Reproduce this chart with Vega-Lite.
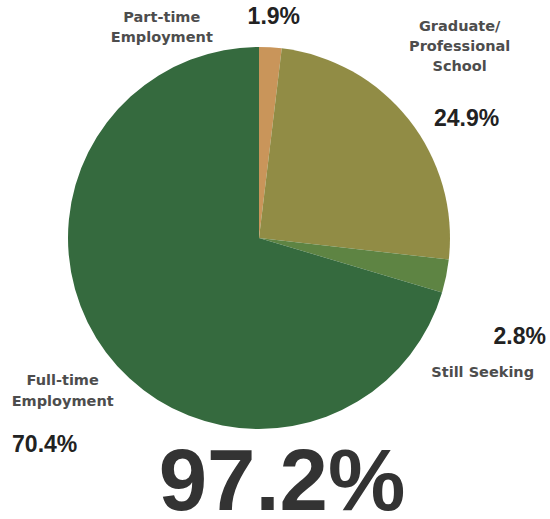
{
  "$schema": "https://vega.github.io/schema/vega-lite/v6.json",
  "width": 518,
  "height": 476,
  "autosize": {"type": "none"},
  "padding": {"left": 0, "top": 0, "right": 32, "bottom": 43},
  "background": "white",
  "config": {"view": {"stroke": null}},
  "title": {
    "text": "97.2%",
    "orient": "bottom",
    "anchor": "middle",
    "baseline": "alphabetic",
    "offset": 34,
    "dx": 23,
    "font": "Liberation Sans",
    "fontWeight": "bold",
    "fontSize": 87,
    "color": "#333333"
  },
  "data": {
    "values": [
      {"category": "Part-time", "rank": 1, "value": 1.9, "label": "Part-time\nEmployment", "pct": "1.9%"},
      {"category": "Graduate", "rank": 2, "value": 24.9, "label": "Graduate/\nProfessional\nSchool", "pct": "24.9%"},
      {"category": "Still Seeking", "rank": 3, "value": 2.8, "label": "Still Seeking", "pct": "2.8%"},
      {"category": "Full-time", "rank": 4, "value": 70.4, "label": "Full-time\nEmployment", "pct": "70.4%"}
    ]
  },
  "encoding": {
    "theta": {"field": "value", "type": "quantitative", "stack": true},
    "order": {"field": "rank", "type": "quantitative"}
  },
  "layer": [
    {
      "mark": {"type": "arc", "outerRadius": 191, "stroke": null},
      "encoding": {
        "color": {
          "field": "category",
          "type": "nominal",
          "scale": {
            "domain": ["Part-time", "Graduate", "Still Seeking", "Full-time"],
            "range": ["#c9955a", "#918c45", "#5e8443", "#356a3e"]
          },
          "legend": null
        }
      }
    },
    {
      "mark": {"type": "text", "radius": 215, "dx": -110, "dy": -5, "font": "DejaVu Sans", "fontWeight": "bold", "fontSize": 14.5, "lineHeight": 20, "lineBreak": "\n", "baseline": "middle", "align": "center", "fill": "#4d4d4d"},
      "encoding": {"text": {"condition": {"test": "datum.category === 'Part-time'", "field": "label"}, "value": ""}}
    },
    {
      "mark": {"type": "text", "radius": 215, "dx": 32, "dy": -78, "font": "DejaVu Sans", "fontWeight": "bold", "fontSize": 14.5, "lineHeight": 20, "lineBreak": "\n", "baseline": "middle", "align": "center", "fill": "#4d4d4d"},
      "encoding": {"text": {"condition": {"test": "datum.category === 'Graduate'", "field": "label"}, "value": ""}}
    },
    {
      "mark": {"type": "text", "radius": 215, "dx": 13, "dy": 92, "font": "DejaVu Sans", "fontWeight": "bold", "fontSize": 14.5, "lineHeight": 20, "lineBreak": "\n", "baseline": "middle", "align": "center", "fill": "#4d4d4d"},
      "encoding": {"text": {"condition": {"test": "datum.category === 'Still Seeking'", "field": "label"}, "value": ""}}
    },
    {
      "mark": {"type": "text", "radius": 215, "dx": -24, "dy": 14, "font": "DejaVu Sans", "fontWeight": "bold", "fontSize": 14.5, "lineHeight": 21, "lineBreak": "\n", "baseline": "middle", "align": "center", "fill": "#4d4d4d"},
      "encoding": {"text": {"condition": {"test": "datum.category === 'Full-time'", "field": "label"}, "value": ""}}
    },
    {
      "mark": {"type": "text", "radius": 215, "dx": 2, "dy": -6, "font": "Liberation Sans", "fontWeight": "bold", "fontSize": 23, "baseline": "middle", "align": "center", "fill": "#222222"},
      "encoding": {"text": {"condition": {"test": "datum.category === 'Part-time'", "field": "pct"}, "value": ""}}
    },
    {
      "mark": {"type": "text", "radius": 215, "dx": 39, "dy": 14, "font": "Liberation Sans", "fontWeight": "bold", "fontSize": 23, "baseline": "middle", "align": "center", "fill": "#222222"},
      "encoding": {"text": {"condition": {"test": "datum.category === 'Graduate'", "field": "pct"}, "value": ""}}
    },
    {
      "mark": {"type": "text", "radius": 215, "dx": 50, "dy": 56, "font": "Liberation Sans", "fontWeight": "bold", "fontSize": 23, "baseline": "middle", "align": "center", "fill": "#222222"},
      "encoding": {"text": {"condition": {"test": "datum.category === 'Still Seeking'", "field": "pct"}, "value": ""}}
    },
    {
      "mark": {"type": "text", "radius": 215, "dx": -42, "dy": 78, "font": "Liberation Sans", "fontWeight": "bold", "fontSize": 23, "baseline": "middle", "align": "center", "fill": "#222222"},
      "encoding": {"text": {"condition": {"test": "datum.category === 'Full-time'", "field": "pct"}, "value": ""}}
    }
  ]
}
